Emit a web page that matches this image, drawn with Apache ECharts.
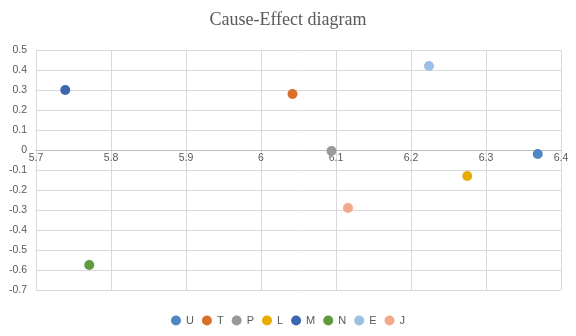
<!DOCTYPE html>
<html><head><meta charset="utf-8">
<script src="https://cdn.jsdelivr.net/npm/echarts@6/dist/echarts.min.js"></script>
<style>html,body{margin:0;padding:0;background:#fff}#c{width:576px;height:336px}</style>
</head><body><div id="c"></div>
<script>
var names = ['U','T','P','L','M','N','E','J'];
var xValues = [6.369, 6.042, 6.094, 6.275, 5.739, 5.771, 6.224, 6.116];
var yValues = [-0.02, 0.28, -0.005, -0.13, 0.30, -0.575, 0.42, -0.29];
var palette = ['#4E87C4','#D9702A','#999999','#E6AC00','#3F67B1','#5F9A3C','#9DBFE4','#F2A88A'];

var series = names.map(function(n, i){
  return {
    name: n, type: 'scatter', symbol: 'circle', symbolSize: 10,
    itemStyle: {color: palette[i], opacity: 1},
    data: [[xValues[i], yValues[i]]]
  };
});
var chart = echarts.init(document.getElementById('c'), null, {renderer:'canvas'});
chart.setOption({
  animation: false,
  color: palette,
  title: {text: 'Cause-Effect diagram', left: 'center', top: 6,
    textStyle: {fontFamily: 'Liberation Serif', fontSize: 18, fontWeight: 'normal', color: '#595959'}},
  legend: {bottom: 5, left: 'center', icon: 'circle', itemWidth: 10, itemHeight: 10, itemGap: 8,
    textStyle: {fontFamily: 'Liberation Sans', fontSize: 11, color: '#595959'}, data: names},
  grid: {left: 36, right: 15, top: 50, bottom: 46, containLabel: false},
  xAxis: {type: 'value', min: 5.7, max: 6.4, interval: 0.1, position: 'bottom', offset: -140,
    axisLine: {onZero: false, lineStyle: {color: '#bfbfbf'}},
    axisTick: {show: false},
    axisLabel: {color: '#595959', fontFamily: 'Liberation Sans', fontSize: 10.5, margin: 3,
      formatter: function(v){ return String(+v.toFixed(1)); }},
    splitLine: {show: true, lineStyle: {color: '#d9d9d9'}}},
  yAxis: {type: 'value', min: -0.7, max: 0.5, interval: 0.1,
    axisLine: {show: false}, axisTick: {show: false},
    axisLabel: {color: '#595959', fontFamily: 'Liberation Sans', fontSize: 10.5, margin: 9,
      formatter: function(v){ return String(+v.toFixed(1)); }},
    splitLine: {show: true, lineStyle: {color: '#d9d9d9'}}},
  series: series
});
</script></body></html>
